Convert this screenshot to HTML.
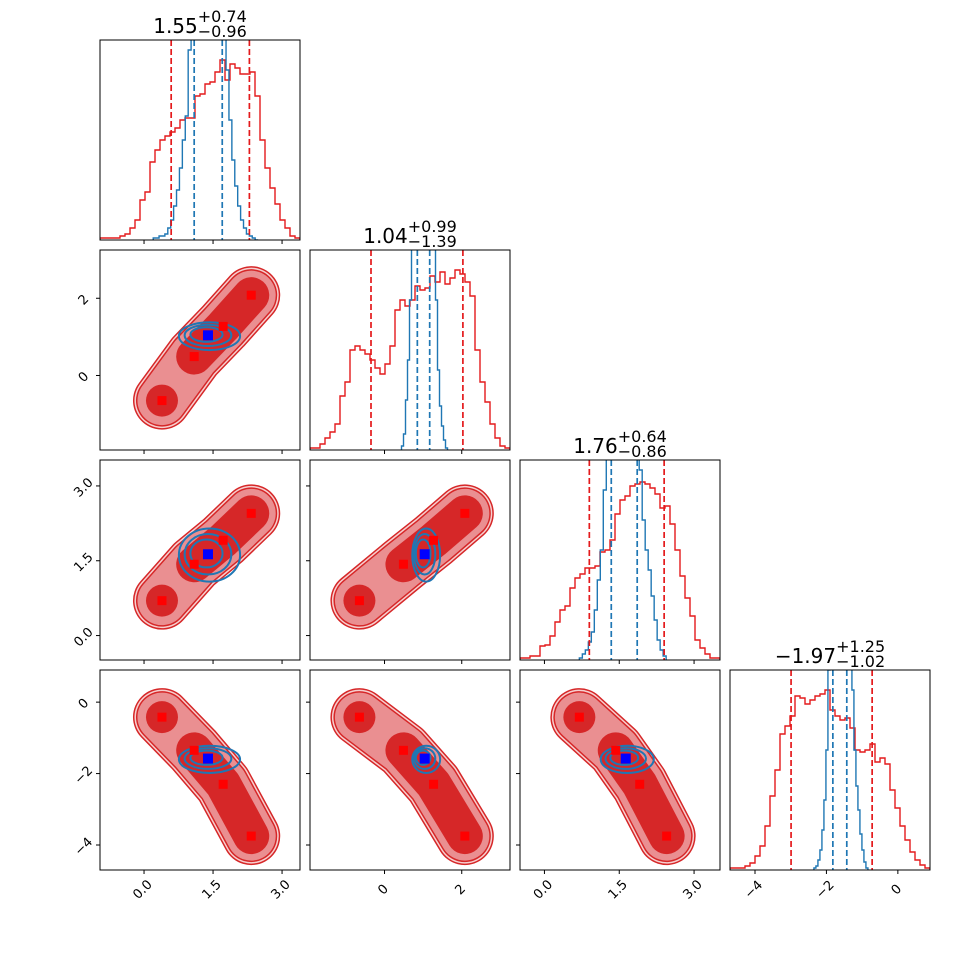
<!DOCTYPE html>
<html><head><meta charset="utf-8"><title>Corner plot</title>
<style>
html,body{margin:0;padding:0;background:#fff;}
svg{display:block;font-family:"DejaVu Sans","Liberation Sans",sans-serif;}
</style></head>
<body>
<svg id="chart" width="970" height="970" viewBox="0 0 970 970" xmlns="http://www.w3.org/2000/svg">
<rect x="0" y="0" width="970" height="970" fill="#fff"/>
</svg>
<script>
// ---- data ----
const lo = [-0.957, -1.93, -0.49, -4.7];
const hi = [3.39, 3.25, 3.52, 0.9];
const redHist0 = [.01,.01,.01,.01,.02,.03,.06,.10,.2,.24,.39,.45,.5,.52,.54,.56,.6,.61,.61,.72,.73,.78,.79,.84,.9,.8,.88,.86,.83,.83,.84,.72,.5,.36,.26,.18,.1,.06,.02,.01];
const redHist1 = [.01,.01,.03,.06,.09,.13,.27,.34,.5,.52,.5,.48,.45,.41,.38,.43,.52,.7,.75,.72,.75,.82,.8,.81,.87,.84,.89,.83,.86,.9,.88,.84,.77,.5,.34,.24,.13,.06,.02,.01];
const redHist2 = [.01,.01,.02,.02,.07,.075,.12,.19,.25,.27,.36,.41,.43,.46,.46,.47,.54,.55,.6,.73,.8,.82,.87,.88,.89,.88,.86,.83,.76,.77,.68,.55,.42,.31,.22,.1,.06,.03,.01,.01];
const redHist3 = [.01,.01,.01,.02,.035,.07,.12,.22,.37,.5,.68,.72,.77,.87,.86,.83,.85,.87,.88,.9,.8,.77,.75,.76,.71,.6,.59,.6,.63,.54,.56,.53,.4,.31,.22,.15,.09,.05,.025,.01];
const blueHist0 = [.01,.01,.02,.02,.03,.06,.1,.17,.25,.36,.5,.62,.95,1.3,1.6,1.9,2.1,2.2,2.2,2.1,2.0,1.8,1.5,1.3,1.1,.85,.6,.4,.27,.17,.1,.06,.03,.02,.01,0];
const blueHist1 = [.02,.08,.25,.45,.75,1.1,1.5,1.9,2.2,2.4,2.5,2.5,2.4,2.2,1.9,1.5,1.1,.75,.4,.22,.12,.05,.01];
const blueHist2 = [.01,.03,.05,.09,.14,.25,.4,.55,.85,1.2,1.5,1.8,2.0,2.1,2.2,2.1,2.0,1.8,1.5,1.2,.95,.7,.55,.45,.32,.2,.1,.05,.02];
const blueHist3 = [.01,.02,.05,.1,.2,.35,.6,1.0,1.4,1.8,2.1,2.3,2.4,2.4,2.3,2.1,1.8,1.5,1.2,.9,.6,.42,.3,.18,.1,.04,.01];
const blueLo = [0.2, 0.44, 0.70, -2.35];
const blueBin = [0.0633, 0.0518, 0.06, 0.056];
const redQLo = [0.59, -0.35, 0.90, -2.99];
const redQHi = [2.29, 2.03, 2.40, -0.72];
const blueQLo = [1.09, 0.85, 1.34, -1.82];
const blueQHi = [1.70, 1.17, 1.86, -1.43];
const medians = ["1.55", "1.04", "1.76", "\u22121.97"];
const plusErr = ["+0.74", "+0.99", "+0.64", "+1.25"];
const minusErr = ["\u22120.96", "\u22121.39", "\u22120.86", "\u22121.02"];
const modeP0 = [0.39, 1.09, 1.72, 2.33];
const modeP1 = [-0.65, 0.49, 1.27, 2.08];
const modeP2 = [0.70, 1.43, 1.91, 2.45];
const modeP3 = [-0.42, -1.35, -2.3, -3.75];
const blueCenter = [1.39, 1.04, 1.63, -1.58];
const blueSigma = [0.35, 0.19, 0.28, 0.2];
const tickVals0 = [0.0, 1.5, 3.0];
const tickVals1 = [0, 2];
const tickVals2 = [0.0, 1.5, 3.0];
const tickVals3 = [-4, -2, 0];
const tickLabels0 = ["0.0", "1.5", "3.0"];
const tickLabels1 = ["0", "2"];
const tickLabels2 = ["0.0", "1.5", "3.0"];
const tickLabels3 = ["\u22124", "\u22122", "0"];

const redHists = [redHist0, redHist1, redHist2, redHist3];
const blueHists = [blueHist0, blueHist1, blueHist2, blueHist3];
const modes = [modeP0, modeP1, modeP2, modeP3];
const tickVals = [tickVals0, tickVals1, tickVals2, tickVals3];
const tickLabels = [tickLabels0, tickLabels1, tickLabels2, tickLabels3];

// ---- layout ----
const X0 = [100, 310, 520, 730];
const Y0 = [40, 250, 460, 670];
const S = 200;
const NS = "http://www.w3.org/2000/svg";
const svg = document.getElementById('chart');

function mk(tag, attrs, parent) {
  const e = document.createElementNS(NS, tag);
  for (const k in attrs) e.setAttribute(k, attrs[k]);
  (parent || svg).appendChild(e);
  return e;
}
function px(p, v, col) { return X0[col] + (v - lo[p]) / (hi[p] - lo[p]) * S; }
function py(p, v, row) { return Y0[row] + S - (v - lo[p]) / (hi[p] - lo[p]) * S; }
function hy(v, row) { return Y0[row] + S - v * S; }

const defs = mk('defs', {});
for (let r = 0; r < 4; r++) for (let c = 0; c <= r; c++) {
  const cp = mk('clipPath', {id: 'clip' + r + c}, defs);
  mk('rect', {x: X0[c], y: Y0[r], width: S, height: S}, cp);
}

// ---- diagonal histogram panels ----
for (let i = 0; i < 4; i++) {
  const g = mk('g', {'clip-path': 'url(#clip' + i + i + ')'});
  
  
  const base = Y0[i] + S;
  const rh = redHists[i];
  const bw = (hi[i] - lo[i]) / rh.length;
  let d = 'M' + px(i, lo[i], i) + ' ' + base;
  for (let k = 0; k < rh.length; k++) {
    const xa = px(i, lo[i] + k * bw, i), xb = px(i, lo[i] + (k + 1) * bw, i), yy = hy(rh[k], i);
    d += ' L' + xa + ' ' + yy + ' L' + xb + ' ' + yy;
  }
  d += ' L' + px(i, hi[i], i) + ' ' + base;
  const redPath = mk('path', {d: d, fill: 'none', stroke: '#e41a1c', 'stroke-width': 1.4}, g);
  
  
  const bh = blueHists[i];
  let d2 = 'M' + px(i, blueLo[i], i) + ' ' + base;
  for (let k = 0; k < bh.length; k++) {
    const xa = px(i, blueLo[i] + k * blueBin[i], i), xb = px(i, blueLo[i] + (k + 1) * blueBin[i], i), yy = hy(bh[k], i);
    d2 += ' L' + xa + ' ' + yy + ' L' + xb + ' ' + yy;
  }
  d2 += ' L' + px(i, blueLo[i] + bh.length * blueBin[i], i) + ' ' + base;
  const bluePath = mk('path', {d: d2, fill: 'none', stroke: '#1f77b4', 'stroke-width': 1.4}, g);
  
  
  [[redQLo[i], '#e41a1c', 'red-quantile-low-'], [redQHi[i], '#e41a1c', 'red-quantile-high-'],
   [blueQLo[i], '#1f77b4', 'blue-quantile-low-'], [blueQHi[i], '#1f77b4', 'blue-quantile-high-']].forEach(q => {
    const x = px(i, q[0], i);
    const ln = mk('line', {x1: x, x2: x, y1: Y0[i], y2: base, stroke: q[1], 'stroke-width': 1.7, 'stroke-dasharray': '6,3'}, g);
    
    
  });
  const cx = X0[i] + S / 2;
  const tb = mk('text', {x: 0, y: Y0[i] - 7, 'font-size': 20, fill: '#000'});
  tb.textContent = medians[i];
  
  
  const ts = mk('text', {x: 0, y: Y0[i] - 18, 'font-size': 16, fill: '#000'});
  ts.textContent = plusErr[i];
  
  
  const tm = mk('text', {x: 0, y: Y0[i] - 3, 'font-size': 16, fill: '#000'});
  tm.textContent = minusErr[i];
  
  
  const wb = tb.getComputedTextLength(), ws = Math.max(ts.getComputedTextLength(), tm.getComputedTextLength());
  const start = cx - (wb + ws) / 2;
  tb.setAttribute('x', start);
  ts.setAttribute('x', start + wb);
  tm.setAttribute('x', start + wb);
}

// ---- 2D panels ----
for (let r = 1; r < 4; r++) for (let c = 0; c < r; c++) {
  const g = mk('g', {'clip-path': 'url(#clip' + r + c + ')'});
  
  
  const pts = modes[c].map((v, k) => [px(c, v, c), py(r, modes[r][k], r)]);
  const pl = pts.map(p => p[0] + ',' + p[1]).join(' ');
  const layers = [[58, '#d62728', 'outer-contour-line'], [55, '#f7cfcf', 'outer-contour-fill'],
                  [52, '#d62728', 'middle-contour-line'], [49, '#ea8f91', 'middle-contour-fill']];
  layers.forEach(L => {
    const e = mk('polyline', {points: pl, fill: 'none', stroke: L[1], 'stroke-width': L[0], 'stroke-linecap': 'round', 'stroke-linejoin': 'round'}, g);
    
    
  });
  const inner = mk('polyline', {points: pts.slice(1).map(p => p[0] + ',' + p[1]).join(' '), fill: 'none', stroke: '#d62728', 'stroke-width': 36, 'stroke-linecap': 'round', 'stroke-linejoin': 'round'}, g);
  
  
  const blob = mk('circle', {cx: pts[0][0], cy: pts[0][1], r: 16, fill: '#d62728'}, g);
  
  
  const bx = px(c, blueCenter[c], c), by = py(r, blueCenter[r], r);
  const sx = blueSigma[c] * S / (hi[c] - lo[c]), sy = blueSigma[r] * S / (hi[r] - lo[r]);
  [1.0, 1.45, 1.9].forEach((k, j) => {
    const el = mk('ellipse', {cx: bx + (j - 1) * 1.5, cy: by + (j - 1) * 0.8, rx: k * sx, ry: k * sy, fill: 'none', stroke: '#1f77b4', 'stroke-width': 2}, g);
    
    
  });
  pts.forEach(p => {
    const m = mk('rect', {x: p[0] - 4.5, y: p[1] - 4.5, width: 9, height: 9, fill: '#ff0000'}, g);
    
    
  });
  const bm = mk('rect', {x: bx - 5, y: by - 5, width: 10, height: 10, fill: '#0000ff'}, g);
  
  
}

// ---- frames & ticks ----
for (let r = 0; r < 4; r++) for (let c = 0; c <= r; c++) {
  const fr = mk('rect', {x: X0[c], y: Y0[r], width: S, height: S, fill: 'none', stroke: '#000', 'stroke-width': 1});
  
  
  tickVals[c].forEach((v, k) => {
    const x = px(c, v, c);
    const t = mk('line', {x1: x, x2: x, y1: Y0[r] + S, y2: Y0[r] + S + 4, stroke: '#000', 'stroke-width': 1});
    
    
    if (r === 3) {
      const lb = mk('text', {x: x - 1, y: 890, 'text-anchor': 'middle', 'dominant-baseline': 'middle', transform: 'rotate(-45 ' + (x - 1) + ' 890)', fill: '#000', style: 'font-size:13px'});
      lb.textContent = tickLabels[c][k];
      
      
    }
  });
  if (c < r) {
    tickVals[r].forEach((v, k) => {
      const y = py(r, v, r);
      const t = mk('line', {x1: X0[c] - 4, x2: X0[c], y1: y, y2: y, stroke: '#000', 'stroke-width': 1});
      
      
      if (c === 0) {
        const lb = mk('text', {x: 84, y: y + 2, 'text-anchor': 'middle', 'dominant-baseline': 'middle', transform: 'rotate(-45 84 ' + (y + 2) + ')', fill: '#000', style: 'font-size:13px'});
        lb.textContent = tickLabels[r][k];
        
        
      }
    });
  }
}
</script>
</body></html>
